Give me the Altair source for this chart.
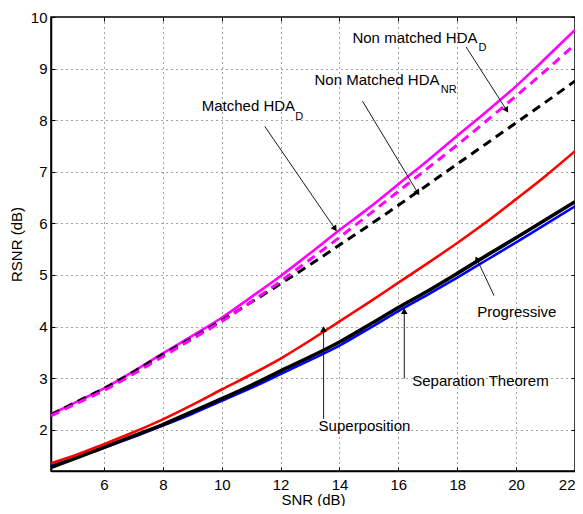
import math
import altair as alt
import pandas as pd

snr = [4.2, 5, 6, 7, 8, 9, 10, 11, 12, 13, 14, 15, 16, 17, 18, 19, 20, 21, 22]
matched_hda_d = [2.30, 2.52, 2.80, 3.13, 3.48, 3.82, 4.17, 4.57, 4.98, 5.42, 5.87, 6.30, 6.76, 7.22, 7.70, 8.17, 8.66, 9.20, 9.75]
nonmatched_hda_d = [2.27, 2.49, 2.76, 3.08, 3.42, 3.76, 4.10, 4.48, 4.88, 5.30, 5.73, 6.17, 6.62, 7.07, 7.52, 7.99, 8.47, 8.96, 9.47]
nonmatched_hda_nr = [2.29, 2.52, 2.80, 3.12, 3.46, 3.78, 4.12, 4.47, 4.83, 5.20, 5.58, 5.96, 6.35, 6.75, 7.15, 7.55, 7.95, 8.35, 8.76]
superposition = [1.35, 1.50, 1.72, 1.95, 2.20, 2.48, 2.78, 3.07, 3.38, 3.73, 4.10, 4.47, 4.85, 5.23, 5.62, 6.03, 6.47, 6.92, 7.40]
separation = [1.30, 1.45, 1.65, 1.86, 2.08, 2.31, 2.56, 2.81, 3.08, 3.35, 3.63, 3.96, 4.30, 4.62, 4.95, 5.29, 5.63, 5.98, 6.33]
progressive = [1.27, 1.44, 1.66, 1.88, 2.10, 2.35, 2.60, 2.86, 3.14, 3.41, 3.70, 4.03, 4.37, 4.69, 5.03, 5.38, 5.72, 6.07, 6.42]

x_ticks = [6, 8, 10, 12, 14, 16, 18, 20, 22]
y_ticks = [2, 3, 4, 5, 6, 7, 8, 9, 10]

# annotations: label, text x, text y, subscript, sub x, sub y, arrow from (x1,y1) to (x2,y2)
ann_labels = ["Non matched HDA", "Non Matched HDA", "Matched HDA", "Progressive", "Separation Theorem", "Superposition"]
ann_tx = [14.44, 13.15, 9.32, 18.68, 16.47, 13.29]
ann_ty = [9.60, 8.78, 8.28, 4.28, 2.95, 2.08]
ann_sub = ["D", "NR", "D", "", "", ""]
ann_sx = [18.72, 17.44, 12.50, 0, 0, 0]
ann_sy = [9.40, 8.58, 8.06, 0, 0, 0]
arr_x1 = [18.30, 14.78, 11.46, 19.25, 16.20, 13.46]
arr_y1 = [9.42, 8.37, 7.88, 4.60, 2.99, 2.21]
arr_x2 = [19.66, 16.64, 13.83, 18.68, 16.20, 13.46]
arr_y2 = [8.21, 6.61, 5.91, 5.29, 4.28, 3.93]

W, H = 524, 454
XD = [4.2, 22]
YD = [1.2, 10]
FONT = "Liberation Sans"

series_data = [
    ("Separation Theorem", separation, "#0000ff", 2.6, False),
    ("Progressive", progressive, "#000000", 3.6, False),
    ("Superposition", superposition, "#ff0000", 2.6, False),
    ("Matched HDA_D", matched_hda_d, "#ff00ff", 2.6, False),
    ("Non Matched HDA_NR", nonmatched_hda_nr, "#000000", 3.0, True),
    ("Non matched HDA_D", nonmatched_hda_d, "#ff00ff", 3.0, True),
]

xs = alt.Scale(domain=XD, nice=False, zero=False)
ys = alt.Scale(domain=YD, nice=False, zero=False)

xax = alt.Axis(values=x_ticks, title="SNR (dB)", grid=True, ticks=False, labelPadding=6,
               titlePadding=0)
yax = alt.Axis(values=y_ticks, title="RSNR (dB)", grid=True, ticks=False, labelPadding=4,
               titlePadding=6)

tick_common = dict(labels=False, domain=False, grid=False, ticks=True, tickSize=4,
                   tickColor="black", tickWidth=1, title=None)
x_in_bottom = alt.Axis(orient="top", offset=-H, values=x_ticks, **tick_common)
x_in_top = alt.Axis(orient="bottom", offset=-H, values=x_ticks, **tick_common)
y_in_left = alt.Axis(orient="right", offset=-W, values=y_ticks, **tick_common)
y_in_right = alt.Axis(orient="left", offset=-W, values=y_ticks, **tick_common)

layers = []
for i, (name, vals, col, sw, dash) in enumerate(series_data):
    d = pd.DataFrame({"snr": snr, "rsnr": vals})
    kw = dict(color=col, strokeWidth=sw, interpolate="monotone")
    if dash:
        kw["strokeDash"] = [9, 6]
    layers.append(
        alt.Chart(d).mark_line(**kw).encode(
            x=alt.X("snr:Q", scale=xs, axis=xax if i == 0 else None),
            y=alt.Y("rsnr:Q", scale=ys, axis=yax if i == 0 else None),
            order=alt.Order("snr:Q"),
        )
    )

sep_df = pd.DataFrame({"snr": snr, "rsnr": separation})
tick_layers = [
    alt.Chart(sep_df).mark_line(opacity=0).encode(
        x=alt.X("snr:Q", scale=xs, axis=x_in_bottom), y=alt.Y("rsnr:Q", scale=ys, axis=y_in_left)),
    alt.Chart(sep_df).mark_line(opacity=0).encode(
        x=alt.X("snr:Q", scale=xs, axis=x_in_top), y=alt.Y("rsnr:Q", scale=ys, axis=y_in_right)),
]

ann = pd.DataFrame({"label": ann_labels, "tx": ann_tx, "ty": ann_ty, "sub": ann_sub,
                    "sx": ann_sx, "sy": ann_sy, "x1": arr_x1, "y1": arr_y1,
                    "x2": arr_x2, "y2": arr_y2})
sxp = W / (XD[1] - XD[0])
syp = H / (YD[1] - YD[0])
ann["angle"] = [
    (math.degrees(math.atan2((b - a) * sxp, (d - c) * syp)) + 360) % 360
    for a, b, c, d in zip(arr_x1, arr_x2, arr_y1, arr_y2)
]
ann_chart = alt.Chart(ann)

texts = ann_chart.mark_text(align="left", baseline="middle", font=FONT, fontSize=15, color="black").encode(
    x=alt.X("tx:Q", scale=xs, axis=None), y=alt.Y("ty:Q", scale=ys, axis=None), text="label:N")
subs = ann_chart.transform_filter("datum.sub != ''").mark_text(
    align="left", baseline="middle", font=FONT, fontSize=11, color="black").encode(
    x=alt.X("sx:Q", scale=xs, axis=None), y=alt.Y("sy:Q", scale=ys, axis=None), text="sub:N")
arrows = ann_chart.mark_rule(color="black", strokeWidth=0.9).encode(
    x=alt.X("x1:Q", scale=xs, axis=None), y=alt.Y("y1:Q", scale=ys, axis=None), x2="x2:Q", y2="y2:Q")
heads = ann_chart.mark_point(shape="triangle", filled=True, color="black", size=45, opacity=1).encode(
    x=alt.X("x2:Q", scale=xs, axis=None), y=alt.Y("y2:Q", scale=ys, axis=None),
    angle=alt.Angle("angle:Q", scale=None))

chart = alt.layer(*layers, *tick_layers, arrows, heads, texts, subs).resolve_axis(
    x="independent", y="independent"
).properties(
    width=W, height=H,
    background="white",
    autosize=alt.AutoSizeParams(type="none"),
    padding={"left": 43, "top": 9, "right": 0, "bottom": 35},
).configure_view(stroke="black", strokeWidth=1.5).configure_axis(
    labelFont=FONT, titleFont=FONT, labelFontSize=15, titleFontSize=15,
    titleFontWeight="normal", labelColor="black", titleColor="black",
    domainColor="black", domainWidth=1.5,
    gridColor="#444444", gridOpacity=1, gridDash=[1, 4], gridWidth=1,
)

chart.save("out.html", embed_options={"renderer": "svg", "actions": False})
